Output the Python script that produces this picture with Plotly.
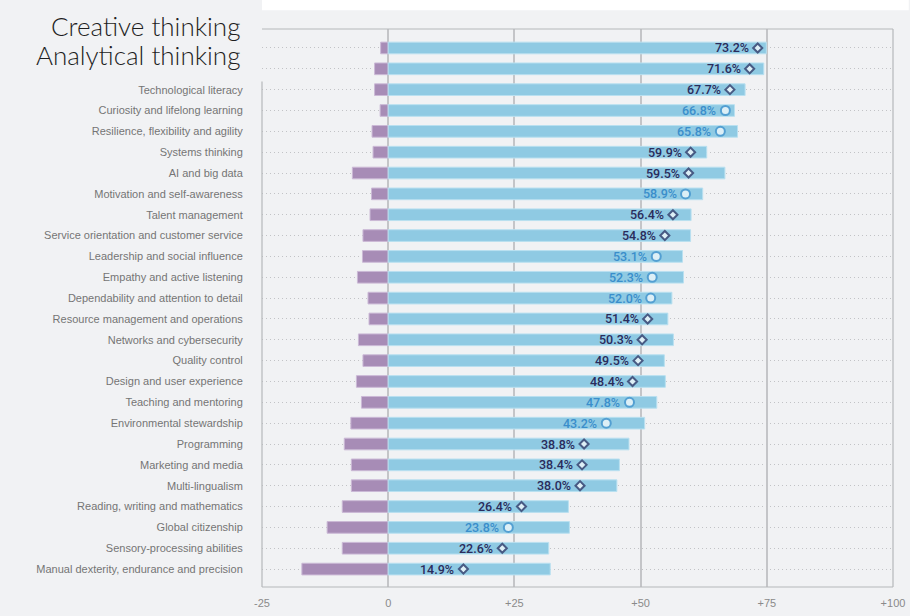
import plotly.graph_objects as go

skills = [
    "Creative thinking", "Analytical thinking", "Technological literacy",
    "Curiosity and lifelong learning", "Resilience, flexibility and agility",
    "Systems thinking", "AI and big data", "Motivation and self-awareness",
    "Talent management", "Service orientation and customer service",
    "Leadership and social influence", "Empathy and active listening",
    "Dependability and attention to detail", "Resource management and operations",
    "Networks and cybersecurity", "Quality control", "Design and user experience",
    "Teaching and mentoring", "Environmental stewardship", "Programming",
    "Marketing and media", "Multi-lingualism", "Reading, writing and mathematics",
    "Global citizenship", "Sensory-processing abilities",
    "Manual dexterity, endurance and precision",
]
increase = [74.9, 74.4, 70.7, 68.6, 69.2, 63.1, 66.7, 62.3, 60.0, 59.9, 58.3, 58.5, 56.2,
            55.4, 56.5, 54.7, 54.9, 53.2, 50.8, 47.7, 45.8, 45.3, 35.7, 35.9, 31.8, 32.1]
decrease = [-1.5, -2.7, -2.7, -1.6, -3.2, -3.0, -7.1, -3.3, -3.6, -5.0, -5.1, -6.1, -4.0,
            -3.8, -5.9, -5.0, -6.3, -5.3, -7.4, -8.7, -7.3, -7.3, -9.1, -12.1, -9.1, -17.1]
share = [73.2, 71.6, 67.7, 66.8, 65.8, 59.9, 59.5, 58.9, 56.4, 54.8, 53.1, 52.3, 52.0,
         51.4, 50.3, 49.5, 48.4, 47.8, 43.2, 38.8, 38.4, 38.0, 26.4, 23.8, 22.6, 14.9]
kind = ["d", "d", "d", "c", "c", "d", "d", "c", "d", "d", "c", "c", "c",
        "d", "d", "d", "d", "c", "c", "d", "d", "d", "d", "c", "d", "d"]
x_ticks = [-25, 0, 25, 50, 75, 100]
x_labels = ["-25", "0", "+25", "+50", "+75", "+100"]

BG = "#f1f2f4"
BLUE = "#8fcae3"
PURPLE = "#a78cb6"
NAVY = "#2a2c5c"
CBLUE = "#3a8ecb"
GRID = "#c4c5c8"
FRAME = "#b6b7ba"

W, H = 917, 621
ML, MR, MT, MB = 262, 14, 29, 28
PW, PH = W - ML - MR, H - MT - MB

fig = go.Figure()
fig.add_trace(go.Bar(y=skills, x=decrease, orientation="h", width=0.56,
                     marker=dict(color=PURPLE, line=dict(color="#cbb9d6", width=1)),
                     hoverinfo="skip"))
fig.add_trace(go.Bar(y=skills, x=increase, orientation="h", width=0.56,
                     marker=dict(color=BLUE, line=dict(color="#b9e0f0", width=1)),
                     hoverinfo="skip"))

sym = ["diamond" if k == "d" else "circle" for k in kind]
col = [NAVY if k == "d" else CBLUE for k in kind]
size = [7 if k == "d" else 9 for k in kind]
fig.add_trace(go.Scatter(
    y=skills, x=share, mode="markers",
    marker=dict(symbol=sym, size=size, color="white", line=dict(color=col, width=2)),
    hoverinfo="skip", cliponaxis=False))

for s, v, c in zip(skills, share, col):
    fig.add_annotation(x=v, y=s, xref="x", yref="y", xanchor="right", xshift=-7,
                       text=f"{v:.1f}%", showarrow=False,
                       font=dict(family="Roboto", size=12.5, color=c, weight=500))

tick_text = ["" if i < 2 else s for i, s in enumerate(skills)]

fig.update_layout(
    width=W, height=H,
    margin=dict(l=ML, r=MR, t=MT, b=MB),
    paper_bgcolor=BG, plot_bgcolor=BG,
    barmode="overlay", showlegend=False,
    font=dict(family="Liberation Sans", color="#777"),
    xaxis=dict(range=[-25, 100], tickvals=x_ticks, ticktext=x_labels,
               showgrid=True, gridcolor=GRID, gridwidth=1.5, zeroline=False,
               ticks="outside", ticklen=6, tickcolor="rgba(0,0,0,0)",
               tickfont=dict(size=11, color="#8a8a8a")),
    yaxis=dict(categoryorder="array", categoryarray=skills, range=[25.86, -0.91],
               tickvals=skills, ticktext=tick_text,
               showgrid=True, gridcolor="#c2c3c6", gridwidth=1, griddash="1px,3px",
               zeroline=False, ticks="outside", ticklen=16, tickcolor="rgba(0,0,0,0)",
               tickfont=dict(size=11, color="#757575")),
)

frame = dict(color=FRAME, width=1.2)
fig.add_shape(type="line", xref="paper", yref="paper", x0=0, x1=1, y0=1, y1=1, line=frame)
fig.add_shape(type="line", xref="paper", yref="paper", x0=0, x1=1, y0=0, y1=0, line=frame)
fig.add_shape(type="line", xref="paper", yref="paper", x0=1, x1=1, y0=0, y1=1, line=frame)
fig.add_shape(type="line", xref="paper", yref="paper", x0=0, x1=0, y0=0,
              y1=(H - MB - 82) / PH, line=frame)
fig.add_shape(type="rect", xref="paper", yref="paper", x0=0.0, x1=(W - ML + 2) / PW,
              y0=(H - MB - 10) / PH, y1=(H - MB + 2) / PH,
              fillcolor="white", line=dict(width=0), layer="below")

for i, shift in [(0, 22), (1, 14)]:
    fig.add_annotation(x=-0.031, xref="paper", xanchor="right", y=skills[i], yref="y",
                       yshift=shift, text=skills[i], showarrow=False,
                       font=dict(family="Lato", size=26, color="#1e1e1e", weight=300))

fig.write_html("out.html", config={"displayModeBar": False},
               post_script="document.body.style.margin='0';document.body.style.overflow='hidden';"
                           "document.body.style.background='" + BG + "';")
